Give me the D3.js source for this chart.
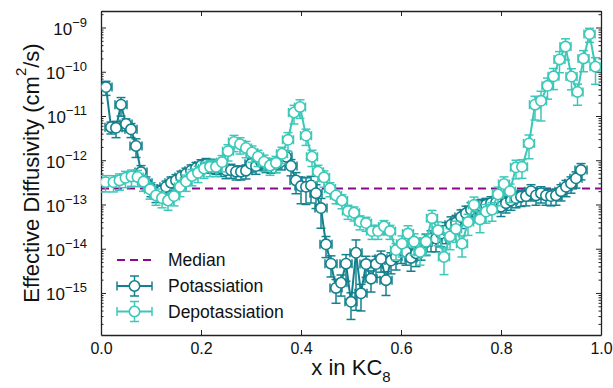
<!DOCTYPE html>
<html><head><meta charset="utf-8">
<script src="https://cdn.jsdelivr.net/npm/d3@7"></script>
<style>body{margin:0;background:#fff}svg{display:block}text{font-family:"Liberation Sans",Arial,sans-serif}</style>
</head><body><svg id="c" width="613" height="388"></svg>
<script>
// ---- data ----
const medianValue = 2.3e-13;
const xTicks = [0, 0.2, 0.4, 0.6, 0.8, 1.0];
const yTickExps = [-15, -14, -13, -12, -11, -10, -9];

const potX = [0.01,0.02,0.03,0.04,0.05,0.06,0.07,0.08,0.09,0.10,0.11,0.12,0.13,0.14,0.15,0.16,0.17,0.18,0.19,0.20,
0.21,0.22,0.23,0.24,0.25,0.26,0.27,0.28,0.29,0.30,0.31,0.32,0.33,0.34,0.35,0.36,0.37,0.38,0.39,0.40,
0.41,0.42,0.43,0.44,0.45,0.46,0.47,0.48,0.49,0.50,0.51,0.52,0.53,0.54,0.55,0.56,0.57,0.58,0.59,0.60,
0.61,0.62,0.63,0.64,0.65,0.66,0.67,0.68,0.69,0.70,0.71,0.72,0.73,0.74,0.75,0.76,0.77,0.78,0.79,0.80,
0.81,0.82,0.83,0.84,0.85,0.86,0.87,0.88,0.89,0.90,0.91,0.92,0.93,0.94,0.95,0.96];
const potY = [4.5e-11,5.6e-12,5.4e-12,1.8e-11,6.6e-12,5.0e-12,2.1e-12,5.4e-13,3.1e-13,2.3e-13,1.7e-13,2.0e-13,2.5e-13,3.1e-13,3.5e-13,4.2e-13,4.9e-13,5.8e-13,6.6e-13,7.6e-13,
8.1e-13,7.8e-13,7.4e-13,6.6e-13,5.9e-13,6.0e-13,5.5e-13,5.5e-13,5.8e-13,8.3e-13,7.4e-13,9.1e-13,8.1e-13,7.8e-13,8.1e-13,9.3e-13,1.2e-12,7.4e-13,3.5e-13,2.6e-13,
2.5e-13,2.7e-13,1.8e-13,8.3e-14,1.26e-14,4.6e-15,1.3e-15,1.7e-15,4.6e-15,6.3e-16,8.1e-15,9.8e-16,4.5e-15,2.1e-15,4.5e-15,5.9e-15,1.95e-15,5.4e-15,6.6e-15,9.3e-15,
8.5e-15,6.2e-15,7.9e-15,1.1e-14,1.4e-14,1.7e-14,1.7e-14,2.2e-14,2.6e-14,3.5e-14,3.9e-14,5.2e-14,6.3e-14,7.6e-14,8.7e-14,9.3e-14,9.8e-14,1.07e-13,1.1e-13,8.9e-14,
1.07e-13,1.23e-13,1.4e-13,1.5e-13,1.55e-13,2.0e-13,1.6e-13,1.8e-13,1.6e-13,1.55e-13,1.6e-13,2.0e-13,2.5e-13,3.0e-13,3.9e-13,6.0e-13];
// relative (linear) error of each point
const potErr = [0.35,0.3,0.4,0.45,0.3,0.35,0.45,0.4,0.35,0.35,0.35,0.35,0.35,0.35,0.35,0.35,0.35,0.35,0.35,0.35,
0.35,0.35,0.35,0.35,0.35,0.35,0.35,0.35,0.35,0.35,0.35,0.35,0.35,0.35,0.35,0.35,0.35,0.4,0.5,0.6,
0.6,0.6,0.55,0.65,0.5,0.5,0.55,0.5,0.6,0.6,0.95,0.6,0.5,0.5,0.5,0.5,0.55,0.5,0.5,0.5,
0.5,0.5,0.5,0.5,0.5,0.5,0.5,0.5,0.5,0.5,0.45,0.45,0.45,0.45,0.4,0.4,0.4,0.4,0.4,0.4,
0.4,0.4,0.4,0.4,0.4,0.4,0.4,0.4,0.4,0.4,0.4,0.4,0.4,0.4,0.4,0.4];
const potXErr = 0.012;

const depX = [0.009,0.025,0.037,0.049,0.061,0.073,0.085,0.098,0.110,0.122,0.134,0.146,0.158,0.170,0.182,0.194,0.206,0.218,0.230,0.242,
0.254,0.266,0.278,0.290,0.302,0.314,0.326,0.338,0.350,0.362,0.374,0.386,0.398,0.410,0.422,0.434,0.446,0.458,0.470,0.482,
0.494,0.506,0.518,0.530,0.542,0.554,0.566,0.578,0.590,0.602,0.614,0.626,0.638,0.650,0.662,0.674,0.686,0.698,0.710,0.722,
0.734,0.746,0.758,0.770,0.782,0.794,0.806,0.818,0.830,0.842,0.856,0.868,0.880,0.893,0.905,0.917,0.929,0.941,0.953,0.965,
0.977,0.989];
const depY = [3.2e-13,3.2e-13,3.5e-13,4.0e-13,4.3e-13,4.2e-13,3.3e-13,2.2e-13,1.6e-13,1.4e-13,1.23e-13,1.55e-13,2.5e-13,3.3e-13,4.4e-13,5.2e-13,6.5e-13,7.1e-13,7.1e-13,9.1e-13,
1.6e-12,2.6e-12,2.3e-12,1.9e-12,1.5e-12,1.2e-12,9.3e-13,7.6e-13,8.7e-13,1.4e-12,2.9e-12,1.2e-11,1.6e-11,3.6e-12,1.2e-12,5.5e-13,4.1e-13,2.3e-13,1.6e-13,1.23e-13,
7.1e-14,6.5e-14,4.1e-14,3.8e-14,2.5e-14,2.5e-14,3.2e-14,2.5e-14,9.3e-15,1.3e-14,2.2e-14,1.45e-14,8.5e-15,1.45e-14,4.9e-14,2.6e-14,6.5e-15,1.9e-14,2.8e-14,1.3e-14,
4.0e-14,9.8e-14,4.6e-14,6.9e-14,7.6e-14,1.7e-13,2.9e-13,2.0e-13,6.9e-13,7.1e-13,2.4e-12,1.8e-11,2.2e-11,4.8e-11,7.9e-11,1.9e-10,3.7e-10,7.8e-11,3.5e-11,2.0e-10,
7.1e-10,1.3e-10];
const depErr = [0.4,0.4,0.4,0.4,0.4,0.4,0.4,0.4,0.4,0.4,0.4,0.4,0.4,0.4,0.4,0.4,0.4,0.4,0.4,0.4,
0.4,0.4,0.4,0.4,0.4,0.4,0.4,0.4,0.4,0.4,0.45,0.45,0.45,0.4,0.4,0.4,0.4,0.35,0.35,0.35,
0.35,0.35,0.35,0.35,0.35,0.35,0.35,0.35,0.4,0.5,0.5,0.5,0.5,0.5,0.5,0.55,0.6,0.5,0.5,0.5,
0.5,0.5,0.5,0.45,0.45,0.45,0.45,0.45,0.45,0.45,0.55,0.55,0.65,0.5,0.5,0.5,0.5,0.5,0.5,0.5,
0.35,0.6];
const depXErr = 0.011;

// ---- layout ----
const svg = d3.select("#c");
const L = 101, R = 601, T = 11, B = 335;
const x = d3.scaleLinear().domain([0, 1]).range([L, R]);
const y = d3.scaleLog().domain([Math.pow(10, -15.95), Math.pow(10, -8.627)]).range([B, T]);

const colPot = "#13808d", colDep = "#3cc8b8", colMed = "#8b0a8b", axCol = "#222";

svg.append("defs").append("clipPath").attr("id", "clip")
  .append("rect").attr("x", L).attr("y", T).attr("width", R - L).attr("height", B - T);

// minor ticks values
const minors = [];
for (let e = -16; e <= -9; e++) for (let k = 2; k <= 9; k++) {
  const v = k * Math.pow(10, e);
  if (v > y.domain()[0] && v < y.domain()[1]) minors.push(v);
}
const majors = yTickExps.map(e => Math.pow(10, e));

// axes
function styleAxis(g) {
  g.selectAll("path.domain").attr("stroke", axCol).attr("stroke-width", 1.3);
  g.selectAll(".tick line").attr("stroke", axCol).attr("stroke-width", 1);
}
const gB = svg.append("g").attr("transform", `translate(0,${B})`)
  .call(d3.axisBottom(x).tickValues(xTicks).tickSize(-5).tickSizeOuter(0).tickPadding(8).tickFormat(d3.format(".1f")));
gB.selectAll("text").attr("font-size", 16).attr("fill", "#111");
styleAxis(gB);
const gT = svg.append("g").attr("transform", `translate(0,${T})`)
  .call(d3.axisTop(x).tickValues(xTicks).tickSize(-5).tickSizeOuter(0).tickFormat(""));
styleAxis(gT);

const gL = svg.append("g").attr("transform", `translate(${L},0)`)
  .call(d3.axisLeft(y).tickValues(majors).tickSize(-5).tickSizeOuter(0).tickPadding(14).tickFormat(() => ""));
styleAxis(gL);
gL.selectAll(".tick text").each(function(d) {
  const t = d3.select(this).attr("font-size", 17).attr("fill", "#111").attr("dy", "0.4em");
  t.text(null);
  t.append("tspan").text("10");
  t.append("tspan").attr("font-size", 13).attr("dy", -8).text("\u2212" + Math.round(-Math.log10(d)));
});
const gLm = svg.append("g").attr("transform", `translate(${L},0)`)
  .call(d3.axisLeft(y).tickValues(minors).tickSize(-2.5).tickSizeOuter(0).tickFormat(""));
gLm.select("path.domain").remove();
styleAxis(gLm);

const gR = svg.append("g").attr("transform", `translate(${R},0)`)
  .call(d3.axisRight(y).tickValues(majors).tickSize(-5).tickSizeOuter(0).tickFormat(""));
styleAxis(gR);
const gRm = svg.append("g").attr("transform", `translate(${R},0)`)
  .call(d3.axisRight(y).tickValues(minors).tickSize(-2.5).tickSizeOuter(0).tickFormat(""));
gRm.select("path.domain").remove();
styleAxis(gRm);

// data layer
const plot = svg.append("g").attr("clip-path", "url(#clip)");

plot.append("line").attr("x1", L).attr("x2", R)
  .attr("y1", y(medianValue)).attr("y2", y(medianValue))
  .attr("stroke", colMed).attr("stroke-width", 2).attr("stroke-dasharray", "8,5");

function drawSeries(xs, ys, errs, xerr, col) {
  const pts = xs.map((v, i) => ({x: v, y: ys[i], e: errs[i]}));
  const g = plot.append("g");
  const cap = 4.5;
  const eb = g.append("g").attr("stroke", col).attr("stroke-width", 1.5).attr("fill", "none");
  pts.forEach(p => {
    const cx = x(p.x), cy = y(p.y);
    const lo = p.y * (1 - p.e), hi = p.y * (1 + p.e);
    const yl = lo > 0 ? y(lo) : B + 20, yh = y(hi);
    eb.append("line").attr("x1", cx).attr("x2", cx).attr("y1", yl).attr("y2", yh);
    eb.append("line").attr("x1", cx - cap).attr("x2", cx + cap).attr("y1", yl).attr("y2", yl);
    eb.append("line").attr("x1", cx - cap).attr("x2", cx + cap).attr("y1", yh).attr("y2", yh);
    const xl = x(p.x - xerr), xh = x(p.x + xerr);
    eb.append("line").attr("x1", xl).attr("x2", xh).attr("y1", cy).attr("y2", cy);
    eb.append("line").attr("x1", xl).attr("x2", xl).attr("y1", cy - cap).attr("y2", cy + cap);
    eb.append("line").attr("x1", xh).attr("x2", xh).attr("y1", cy - cap).attr("y2", cy + cap);
  });
  g.append("path").datum(pts)
    .attr("d", d3.line().x(d => x(d.x)).y(d => y(d.y)))
    .attr("fill", "none").attr("stroke", col).attr("stroke-width", 2);
  g.selectAll("circle").data(pts).join("circle")
    .attr("cx", d => x(d.x)).attr("cy", d => y(d.y)).attr("r", 5.2)
    .attr("fill", "#fff").attr("stroke", col).attr("stroke-width", 1.6);
}
drawSeries(potX, potY, potErr, potXErr, colPot);
drawSeries(depX, depY, depErr, depXErr, colDep);

// legend
const lg = svg.append("g");
const lx1 = 117, lx2 = 152, lmx = 134.5, ltx = 168;
const legendItems = [
  {label: "Median", type: "dash", col: colMed, yy: 260},
  {label: "Potassiation", type: "marker", col: colPot, yy: 286},
  {label: "Depotassiation", type: "marker", col: colDep, yy: 311.5}
];
legendItems.forEach(it => {
  if (it.type === "dash") {
    lg.append("line").attr("x1", lx1).attr("x2", lx2).attr("y1", it.yy).attr("y2", it.yy)
      .attr("stroke", it.col).attr("stroke-width", 2).attr("stroke-dasharray", "8,5");
  } else {
    const gg = lg.append("g").attr("stroke", it.col).attr("fill", "none");
    gg.append("line").attr("x1", lx1).attr("x2", lx2).attr("y1", it.yy).attr("y2", it.yy).attr("stroke-width", 2);
    gg.append("line").attr("x1", lx1).attr("x2", lx1).attr("y1", it.yy - 4.5).attr("y2", it.yy + 4.5).attr("stroke-width", 1.5);
    gg.append("line").attr("x1", lx2).attr("x2", lx2).attr("y1", it.yy - 4.5).attr("y2", it.yy + 4.5).attr("stroke-width", 1.5);
    gg.append("line").attr("x1", lmx).attr("x2", lmx).attr("y1", it.yy - 10).attr("y2", it.yy + 10).attr("stroke-width", 1.5);
    gg.append("line").attr("x1", lmx - 4.5).attr("x2", lmx + 4.5).attr("y1", it.yy - 10).attr("y2", it.yy - 10).attr("stroke-width", 1.5);
    gg.append("line").attr("x1", lmx - 4.5).attr("x2", lmx + 4.5).attr("y1", it.yy + 10).attr("y2", it.yy + 10).attr("stroke-width", 1.5);
    gg.append("circle").attr("cx", lmx).attr("cy", it.yy).attr("r", 5.2).attr("fill", "#fff").attr("stroke-width", 1.6);
  }
  lg.append("text").attr("x", ltx).attr("y", it.yy + 6).attr("font-size", 17.5).attr("fill", "#111").text(it.label);
});

// axis titles
const xt = svg.append("text").attr("x", (L + R) / 2).attr("y", 375).attr("text-anchor", "middle")
  .attr("font-size", 22).attr("fill", "#111");
xt.append("tspan").text("x in KC");
xt.append("tspan").attr("font-size", 15).attr("dy", 7).text("8");

const yt = svg.append("text").attr("transform", `translate(39,${(T + B) / 2}) rotate(-90)`)
  .attr("text-anchor", "middle").attr("font-size", 22).attr("fill", "#111");
yt.append("tspan").text("Effective Diffusivity (cm");
yt.append("tspan").attr("font-size", 15).attr("dy", -13).text("2");
yt.append("tspan").attr("dy", 13).text("/s)");
</script></body></html>
